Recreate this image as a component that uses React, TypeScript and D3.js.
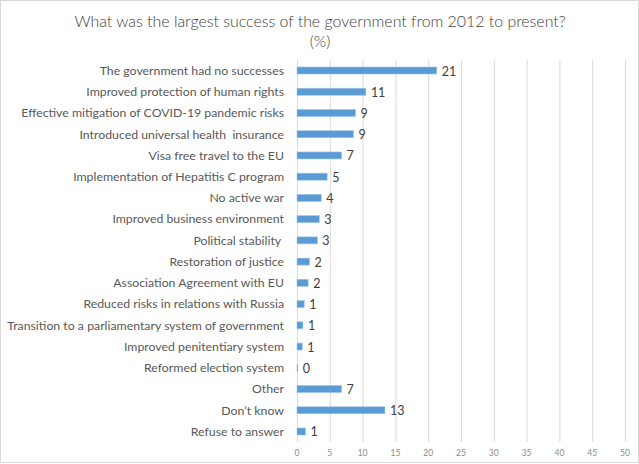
import * as d3 from 'd3';
import { useEffect, useRef } from 'react';

const categories = [
  'The government had no successes',
  'Improved protection of human rights',
  'Effective mitigation of COVID-19 pandemic risks',
  'Introduced universal health  insurance',
  'Visa free travel to the EU',
  'Implementation of Hepatitis C program',
  'No active war',
  'Improved business environment',
  'Political stability ',
  'Restoration of justice',
  'Association Agreement with EU',
  'Reduced risks in relations with Russia',
  'Transition to a parliamentary system of government',
  'Improved penitentiary system',
  'Reformed election system',
  'Other',
  'Don\u2019t know',
  'Refuse to answer'
];

const values = [21.3, 10.5, 8.9, 8.6, 6.8, 4.6, 3.7, 3.4, 3.1, 1.9, 1.7, 1.1, 0.9, 0.8, 0.1, 6.8, 13.4, 1.3];

const xTicks = [0, 5, 10, 15, 20, 25, 30, 35, 40, 45, 50];

const titleLines = ['What was the largest success of the government from 2012 to present?', '(%)'];

const W = 639;
const H = 464;
const FONT = 'Lato, "Open Sans", sans-serif';

const App = () => {
  const ref = useRef<SVGSVGElement | null>(null);

  useEffect(() => {
    if (!ref.current) return;
    const svg = d3.select(ref.current);
    svg.selectAll('*').remove();

    svg.append('rect')
      .attr('x', 0.5).attr('y', 0.5)
      .attr('width', W - 1).attr('height', H - 2)
      .attr('fill', '#fff').attr('stroke', '#d9d9d9');

    const x = d3.scaleLinear().domain([0, 50]).range([297, 625]);
    const y = d3.scaleBand<string>()
      .domain(categories)
      .range([60, 442])
      .paddingInner(0.67)
      .paddingOuter(0.33);

    // title
    svg.append('g')
      .selectAll('text')
      .data(titleLines)
      .enter()
      .append('text')
      .attr('x', 320)
      .attr('y', (_, i) => 27 + i * 20)
      .attr('text-anchor', 'middle')
      .attr('font-family', FONT)
      .attr('font-weight', 300)
      .attr('font-size', 15.9)
      .attr('fill', '#404040')
      .text(d => d);

    // gridlines
    svg.append('g')
      .selectAll('line')
      .data(xTicks)
      .enter()
      .append('line')
      .attr('x1', d => x(d) + 0.5)
      .attr('x2', d => x(d) + 0.5)
      .attr('y1', 60)
      .attr('y2', 442)
      .attr('stroke', '#d9d9d9')
      .attr('stroke-width', 1);

    // tick labels
    svg.append('g')
      .selectAll('text')
      .data(xTicks)
      .enter()
      .append('text')
      .attr('x', d => x(d))
      .attr('y', 456)
      .attr('text-anchor', 'middle')
      .attr('font-family', FONT)
      .attr('font-size', 8.5)
      .attr('fill', '#8c8c8c')
      .text(d => String(d));

    // category labels
    svg.append('g')
      .selectAll('text')
      .data(categories)
      .enter()
      .append('text')
      .attr('x', 284)
      .attr('y', d => (y(d) || 0) + y.bandwidth() / 2)
      .attr('dy', '0.35em')
      .attr('text-anchor', 'end')
      .attr('font-family', FONT)
      .attr('font-size', 12.3)
      .attr('fill', '#595959')
      .style('white-space', 'pre')
      .text(d => d);

    // bars
    svg.append('g')
      .selectAll('rect')
      .data(values)
      .enter()
      .append('rect')
      .attr('x', x(0))
      .attr('y', (_, i) => y(categories[i]) || 0)
      .attr('width', d => Math.max(x(d) - x(0), 0.8))
      .attr('height', y.bandwidth())
      .attr('fill', '#5b9bd5')
      .attr('stroke', '#9dc3e6')
      .attr('stroke-width', 0.6);

    // value labels
    svg.append('g')
      .selectAll('text')
      .data(values)
      .enter()
      .append('text')
      .attr('x', d => x(d) + 5)
      .attr('y', (_, i) => (y(categories[i]) || 0) + y.bandwidth() / 2)
      .attr('dy', '0.4em')
      .attr('font-family', FONT)
      .attr('font-size', 12.5)
      .attr('fill', '#404040')
      .text(d => d3.format('.0f')(d));
  }, []);

  return (
    <div style={{ position: 'absolute', left: 0, top: 0 }}>
      <svg ref={ref} width={W} height={H} style={{ display: 'block' }} />
    </div>
  );
};

export default App;
